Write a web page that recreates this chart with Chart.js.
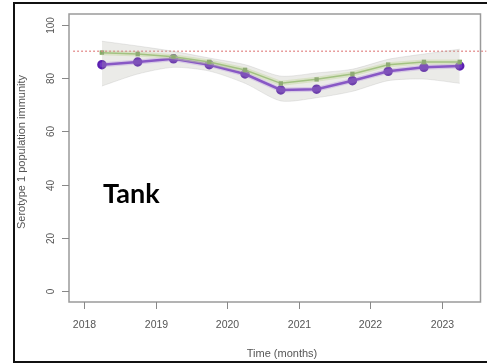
<!DOCTYPE html>
<html>
<head>
<meta charset="utf-8">
<script src="https://cdn.jsdelivr.net/npm/chart.js@4"></script>
<style>
  html, body { margin: 0; padding: 0; background: #fff; }
  canvas { display: block; }
</style>
</head>
<body>
<canvas id="c" width="487" height="364"></canvas>
<script>
// Sampling times (years, half-yearly)
const times = [2018.25, 2018.75, 2019.25, 2019.75, 2020.25, 2020.75, 2021.25, 2021.75, 2022.25, 2022.75, 2023.25];
// Modelled population immunity (%)
const immunityModel = [89.5, 89, 88, 86, 83, 78, 79.5, 81.5, 85, 86, 86];
// Observed / estimated population immunity (%)
const immunityObserved = [85, 86, 87.2, 85, 81.5, 75.5, 75.8, 79, 82.5, 84, 84.5];
// Uncertainty band around the model (%)
const bandUpper = [93.8, 92, 90, 87.5, 85, 80.7, 81.9, 83.3, 87, 89, 90.8];
const bandLower = [77, 81.5, 84, 82.6, 78, 71.4, 72.6, 75, 79, 79.6, 78];
// Target immunity threshold (%)
const targetLevel = 90;
// Axis ticks
const yTicks = [0, 20, 40, 60, 80, 100];
const xTicks = [2018, 2019, 2020, 2021, 2022, 2023];

const pts = arr => times.map((t, i) => ({ x: t, y: arr[i] }));

const frame = {
  id: 'frame',
  afterDraw(chart) {
    const { ctx, chartArea: a, scales: { x, y } } = chart;
    ctx.save();
    // outer panel border
    ctx.strokeStyle = '#111';
    ctx.lineWidth = 2;
    ctx.strokeRect(14, 3, 490, 359);
    // plot box
    ctx.strokeStyle = '#9a9a9a';
    ctx.lineWidth = 1.5;
    ctx.strokeRect(a.left, a.top, a.right - a.left, a.bottom - a.top);

    ctx.fillStyle = '#555';
    ctx.strokeStyle = '#888';
    ctx.lineWidth = 1;
    ctx.font = '10px "Liberation Sans", Arial, sans-serif';
    // y ticks and rotated labels
    yTicks.forEach(v => {
      const py = Math.round(y.getPixelForValue(v)) + 0.5;
      ctx.beginPath();
      ctx.moveTo(a.left - 7, py);
      ctx.lineTo(a.left, py);
      ctx.stroke();
      ctx.save();
      ctx.translate(51, py);
      ctx.rotate(-Math.PI / 2);
      ctx.textAlign = 'center';
      ctx.textBaseline = 'middle';
      ctx.fillText(String(v), 0, 0);
      ctx.restore();
    });
    // x ticks and labels
    ctx.textAlign = 'center';
    ctx.textBaseline = 'middle';
    ctx.font = '10.5px "Liberation Sans", Arial, sans-serif';
    xTicks.forEach(v => {
      const px = Math.round(x.getPixelForValue(v)) + 0.5;
      ctx.beginPath();
      ctx.moveTo(px, a.bottom);
      ctx.lineTo(px, a.bottom + 7);
      ctx.stroke();
      ctx.fillText(String(v), px, 325);
    });
    // axis titles
    ctx.font = '11px "Liberation Sans", Arial, sans-serif';
    ctx.fillText('Time (months)', 282, 354);
    ctx.save();
    ctx.translate(22, 152);
    ctx.rotate(-Math.PI / 2);
    ctx.fillText('Serotype 1 population immunity', 0, 0);
    ctx.restore();
    // panel label
    ctx.fillStyle = '#000';
    ctx.font = 'bold 27px Lato, "Open Sans", sans-serif';
    ctx.textAlign = 'left';
    ctx.textBaseline = 'alphabetic';
    ctx.fillText('Tank', 103, 203);
    ctx.restore();
  }
};

new Chart(document.getElementById('c'), {
  type: 'line',
  data: {
    datasets: [
      {
        data: pts(bandUpper),
        borderColor: 'rgba(150,150,150,0.2)',
        borderWidth: 1,
        backgroundColor: 'rgba(170,172,160,0.24)',
        pointRadius: 0,
        fill: '+1',
        tension: 0.25
      },
      {
        data: pts(bandLower),
        borderColor: 'rgba(150,150,150,0.2)',
        borderWidth: 1,
        pointRadius: 0,
        fill: false,
        tension: 0.25
      },
      {
        data: [{ x: 2017.85, y: targetLevel }, { x: 2023.62, y: targetLevel }],
        borderColor: '#e08080',
        borderWidth: 1.5,
        borderDash: [1.5, 2.5],
        pointRadius: 0,
        fill: false,
        clip: false
      },
      {
        // soft halo under the model line
        data: pts(immunityModel),
        borderColor: 'rgba(205,228,160,0.45)',
        borderWidth: 5,
        borderCapStyle: 'round',
        pointRadius: 0,
        fill: false
      },
      {
        data: pts(immunityModel),
        borderColor: '#7db35a',
        borderWidth: 1.5,
        pointRadius: 2,
        pointStyle: 'rect',
        pointBackgroundColor: '#4f7d3a',
        pointBorderColor: '#4f7d3a',
        fill: false
      },
      {
        // soft halo under the observed line
        data: pts(immunityObserved),
        borderColor: 'rgba(170,110,240,0.3)',
        borderWidth: 5,
        borderCapStyle: 'round',
        pointRadius: 0,
        fill: false
      },
      {
        data: pts(immunityObserved),
        borderColor: '#6a2bc4',
        borderWidth: 2.5,
        pointRadius: 3.5,
        pointBackgroundColor: '#5a1fb0',
        pointBorderColor: '#5a1fb0',
        fill: false
      }
    ]
  },
  options: {
    responsive: false,
    animation: false,
    devicePixelRatio: 1,
    layout: { padding: { left: 69, top: 14, right: 5, bottom: 62 } },
    plugins: { legend: { display: false }, tooltip: { enabled: false } },
    scales: {
      x: { type: 'linear', display: false, min: 2017.79, max: 2023.54 },
      y: { type: 'linear', display: false, min: -4, max: 104 }
    }
  },
  plugins: [frame]
});
</script>
</body>
</html>
